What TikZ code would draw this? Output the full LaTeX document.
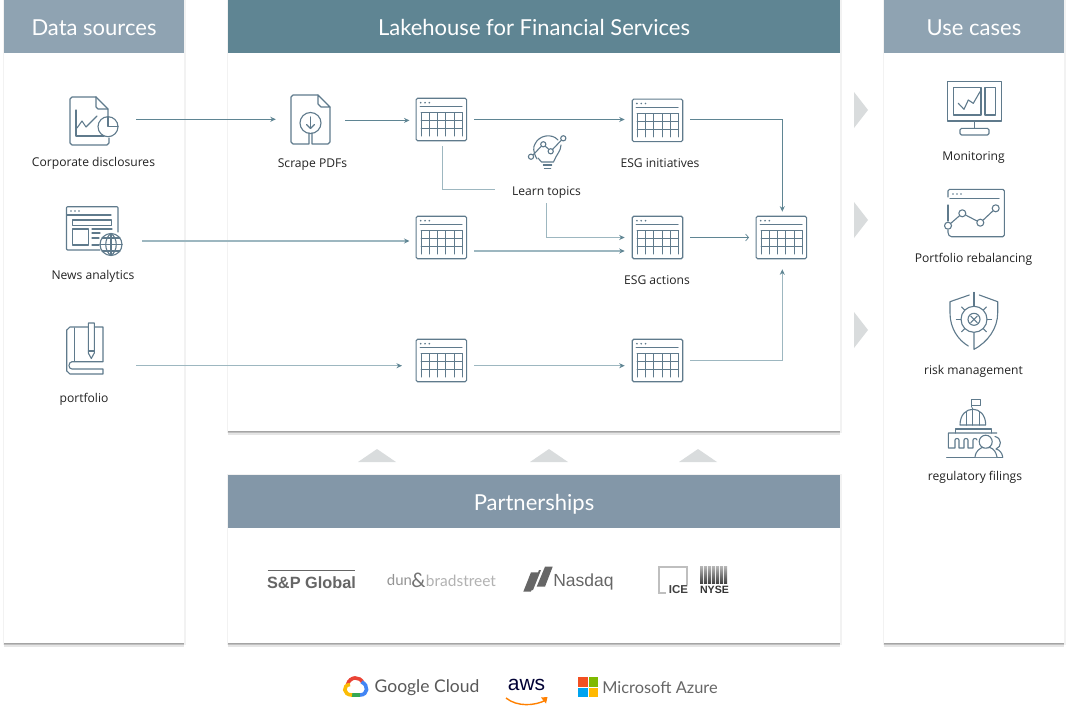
\documentclass[tikz,border=0pt]{standalone}
\usepackage{fontspec}
\setmainfont{Open Sans}
\newfontfamily\headfont{Lato}
\newfontfamily\logofont{Liberation Sans}
\usetikzlibrary{arrows.meta}
\definecolor{iconcol}{HTML}{5F7A8C}
\definecolor{flowdark}{HTML}{5F8593}
\definecolor{flowlight}{HTML}{9DB7C0}
\definecolor{headdark}{HTML}{5F8593}
\definecolor{headsrc}{HTML}{8FA3B2}
\definecolor{headpart}{HTML}{8397A8}
\definecolor{markgray}{HTML}{D9DCDD}
\definecolor{labelcol}{HTML}{222222}
\definecolor{gred}{HTML}{EA4335}
\definecolor{gblue}{HTML}{4285F4}
\definecolor{ggreen}{HTML}{34A853}
\definecolor{gyellow}{HTML}{FBBC05}
\definecolor{msred}{HTML}{F25022}
\definecolor{msgreen}{HTML}{7FBA00}
\definecolor{msblue}{HTML}{00A4EF}
\definecolor{msyellow}{HTML}{FFB900}
\tikzset{
    panelbox/.style={shape=rectangle,anchor=north west,inner sep=0pt,outer sep=0pt,fill=white,
        preaction={draw=black,line width=3pt,opacity=.05},
        preaction={fill=black,opacity=.10,transform canvas={yshift=-3.5pt}},
        preaction={fill=black,opacity=.12,transform canvas={yshift=-2.2pt}},
        preaction={fill=black,opacity=.14,transform canvas={yshift=-1pt}}},
    headbar/.style={shape=rectangle,anchor=north west,inner sep=0pt,outer sep=0pt,minimum height=53pt,text=white,
        text height=17pt,text depth=0pt,font=\headfont\fontsize{22}{24}\selectfont},
    tablebox/.style={shape=rectangle,draw=iconcol,line width=1.1pt,rounded corners=1.5pt,minimum width=50.5pt,minimum height=42.5pt,inner sep=0pt},
    iconbox/.style={shape=rectangle,inner sep=0pt},
    iconline/.style={draw=iconcol,line width=1.1pt,line join=round,line cap=round},
    labeltext/.style={anchor=base,text=labelcol,inner sep=0pt,text height=8.8pt,text depth=3pt,font=\fontsize{12.1}{14}\selectfont},
    flow/.style={draw=flowdark,line width=.9pt,-{Stealth[length=5.5pt,width=5pt]}},
    flowpale/.style={draw=flowlight,line width=1.2pt,-{Stealth[length=5.5pt,width=5pt,color=flowdark]}},
    flowplain/.style={draw=flowlight,line width=1pt},
    markarrow/.style={fill=markgray,draw=none},
    tablegrid/.pic={
        \draw[iconline,line width=1pt] (-21.3,-12.8) -- (20.7,-12.8);
        \foreach \x in {-20.6,-16.3,-12}
            \fill[iconcol] (\x,-16.8) circle (.95pt);
        \foreach \x in {-20.3,-12.1,-3.8,4.5,12.9,21}
            \draw[iconline,line width=1pt] (\x,-6.8) -- (\x,16.5);
        \foreach \y in {-6.8,1.2,8.8}
            \draw[iconline,line width=1pt] (-20.3,\y) -- (21,\y);
    }
}
\begin{document}
\begin{tikzpicture}[x=1pt,y=-1pt]
    \useasboundingbox (0,0) rectangle (1068,728);

    % panels
    \node[panelbox,minimum width=180pt,minimum height=643pt] (srcpanel) at (4,0) {};
    \node[panelbox,minimum width=612pt,minimum height=431pt] (lakepanel) at (228,0) {};
    \node[panelbox,minimum width=612pt,minimum height=168pt] (partpanel) at (228,475) {};
    \node[panelbox,minimum width=180pt,minimum height=643pt] (usepanel) at (884,0) {};
    \node[headbar,fill=headsrc,minimum width=180pt] (srchead) at (4,0) {Data sources};
    \node[headbar,fill=headdark,minimum width=612pt] (lakehead) at (228,0) {Lakehouse for Financial Services};
    \node[headbar,fill=headpart,minimum width=612pt] (parthead) at (228,475) {Partnerships};
    \node[headbar,fill=headsrc,minimum width=180pt] (usehead) at (884,0) {Use cases};

    % grey marks between the panels
    \foreach \y in {110,220,330}
        \fill[markarrow] (854,\y-18) -- (868,\y) -- (854,\y+18) -- cycle;
    \foreach \x in {377,549,698}
        \fill[markarrow] (\x-19,462) -- (\x,449) -- (\x+19,462) -- cycle;

    % tables
    \foreach \name/\px/\py in {rawtab/441.3/119.5,newstab/441.3/237.5,porttab/441.3/360.5,
        inittab/657.5/120.3,acttab/657.5/237.5,scoretab/657.5/360.5,goldtab/781.3/237.5}{
        \node[tablebox] (\name) at (\px,\py) {};
        \pic at (\name) {tablegrid};
    }

    % icon places
    \node[iconbox,minimum width=49pt,minimum height=48pt] (corp) at (94.5,121) {};
    \node[iconbox,minimum width=56pt,minimum height=50pt] (news) at (94,231) {};
    \node[iconbox,minimum width=37pt,minimum height=52pt] (port) at (85,349) {};
    \node[iconbox,minimum width=40pt,minimum height=50pt] (scrape) at (310.5,120) {};

    % labels
    \node[labeltext] (corplabel) at (93.5,166.7) {Corporate disclosures};
    \node[labeltext] (newslabel) at (93,279) {News analytics};
    \node[labeltext] (portlabel) at (84,402.4) {portfolio};
    \node[labeltext] (scrapelabel) at (312.5,167) {Scrape PDFs};
    \node[labeltext] (initlabel) at (660,167.3) {ESG initiatives};
    \node[labeltext,minimum width=70pt] (topics) at (546.5,195) {Learn topics};
    \node[labeltext] (actlabel) at (657,284) {ESG actions};
    \node[labeltext] at (973.5,160) {Monitoring};
    \node[labeltext] at (973.5,262.4) {Portfolio rebalancing};
    \node[labeltext] at (973.5,374) {risk management};
    \node[labeltext] at (975,480) {regulatory filings};

    % connectors
    \draw[flow,shorten <=17pt,shorten >=14.5pt] ([yshift=1.7pt]corp.east) -- ([yshift=.7pt]scrape.west);
    \draw[flow,shorten <=14.5pt,shorten >=6pt] ([yshift=-.4pt]scrape.east) -- ([yshift=-.9pt]rawtab.west);
    \draw[flow,shorten <=7pt,shorten >=7pt] (rawtab.east) -- (rawtab.east -| inittab.west);
    \draw[flow,shorten <=7pt,shorten >=4pt] (rawtab.east -| inittab.east) -| ([xshift=1pt]goldtab.north);
    \draw[flowplain,shorten <=5pt,shorten >=16pt] ([xshift=1pt]rawtab.south) |- ([yshift=2.8pt]topics.west);
    \draw[flowpale,shorten <=5pt,shorten >=7pt] (topics.south) |- (acttab.west);
    \draw[flowpale,shorten <=20pt,shorten >=6pt] ([yshift=-10pt]news.east) -- ([yshift=-3.5pt]newstab.west);
    \draw[flowpale,shorten <=7pt,shorten >=7pt] ([yshift=-13.5pt]newstab.east) -- ([yshift=-13.5pt]acttab.west);
    \draw[draw=flowdark,line width=.7pt,-{Straight Barb[length=3pt,width=7pt]},shorten <=7pt,shorten >=6.5pt] (acttab.east) -- (goldtab.west);
    \draw[flowpale,shorten <=32.5pt,shorten >=13.5pt] ([yshift=-16.7pt]port.east) -- ([yshift=-5.2pt]porttab.west);
    \draw[flowpale,shorten <=7pt,shorten >=7pt] ([yshift=-5.2pt]porttab.east) -- ([yshift=-5.2pt]scoretab.west);
    \draw[flowpale,shorten <=7pt,shorten >=10pt] (scoretab.east) -| ([xshift=1pt]goldtab.south);

    % corporate disclosures
    \draw[iconline] (96,97) -- (72,97) -- (70,99) -- (70,143) -- (72,145) -- (107,145) -- (109,143) -- (109,138);
    \draw[iconline] (96,97) -- (96,107) -- (98,109) -- (108,109) -- (108,116);
    \draw[iconline] (96,97) -- (108,109);
    \draw[iconline] (76,110) -- (76,136) -- (104,136);
    \draw[iconline] (77,128) -- (82,121) -- (86,127) -- (97,116);
    \draw[iconline] (108,126.7) circle (10pt);
    \draw[iconline] (108,116.7) -- (108,126.7) -- (118,126.7);

    % scrape pdfs
    \draw[iconline] (318,95) -- (293,95) -- (291,97) -- (291,142) -- (293,144) -- (309,144) -- (309,133);
    \draw[iconline] (312,133) -- (312,144) -- (328,144) -- (330,142) -- (330,107);
    \draw[iconline] (318,95) -- (318,104) -- (321,107) -- (330,107) -- cycle;
    \draw[iconline] (310.5,123) circle (10.5pt);
    \draw[iconline] (310.5,117) -- (310.5,128);
    \draw[iconline] (306.5,124.5) -- (310.5,128.5) -- (314.5,124.5);

    % news analytics
    \draw[iconline,rounded corners=1pt] (100,250) -- (66.5,250) -- (66.5,206.7) -- (118,206.7) -- (118,232);
    \draw[iconline] (67,215) -- (111,215);
    \foreach \x in {71,75,79}
        \fill[iconcol] (\x,211) circle (.95pt);
    \draw[iconline] (72.7,220) rectangle (111.7,225.3);
    \draw[iconline] (72.7,229) rectangle (88.3,245);
    \draw[iconline] (92,229) -- (112,229);
    \draw[iconline] (92,233) -- (100,233) (92,238) -- (99,238) (92,245) -- (99,245);
    \draw[iconline] (111,244.5) circle (11pt);
    \draw[iconline] (111,233.5) -- (111,255.5) (100,244.5) -- (122,244.5) (102,238) -- (120,238) (102,251) -- (120,251);
    \draw[iconline] (111,233.5) .. controls (104,238) and (104,251) .. (111,255.5);
    \draw[iconline] (111,233.5) .. controls (118,238) and (118,251) .. (111,255.5);

    % portfolio
    \draw[iconline] (88,327) -- (70,327) -- (66.7,330) -- (66.7,371) -- (70,374) -- (103,374) -- (103,369) -- (72,369) .. controls (68,369) and (68,362) .. (72,361.7) -- (103,361.7) -- (103,327) -- (94.3,327);
    \draw[iconline] (74.7,328) -- (74.7,361);
    \draw[iconline] (88.3,323) -- (94.3,323) -- (94.3,353) -- (91.3,358.5) -- (88.3,353) -- cycle;
    \draw[iconline] (88.3,351) -- (94.3,351);

    % learn topics
    \draw[iconline] (537,159) .. controls (533,152) and (533,147) .. (535,144) .. controls (539,135) and (552,133) .. (558,140);
    \draw[iconline] (561,145) .. controls (561,151) and (556,155) .. (553.5,162) -- (541.5,162) -- (538,158);
    \draw[iconline] (543.3,165) -- (551.7,165) (544.3,168.5) -- (550.7,168.5);
    \draw[iconline] (533,155) -- (541.5,146) (545,146) -- (549,149.5) (552.5,149.5) -- (561.5,140);
    \foreach \cx/\cy in {531/156.7,543.3/144.3,550.7/151.3,563.3/138.3}
        \draw[iconline,fill=white] (\cx,\cy) circle (2.6pt);

    % monitoring
    \draw[iconline] (947.3,81.7) rectangle (1001.7,121);
    \draw[iconline] (953.3,87.3) rectangle (981,115);
    \draw[iconline] (985,87.3) rectangle (995.7,115);
    \draw[iconline] (958.3,103.3) -- (964,109.3) -- (968.3,100) -- (973.3,103.3) -- (980,91.7);
    \draw[iconline] (974.3,121) -- (974.3,128.3);
    \draw[iconline,rounded corners=1.5pt] (960,128.3) rectangle (989,135);

    % portfolio rebalancing
    \draw[iconline,rounded corners=1pt] (948,205) -- (948,221);
    \draw[iconline,rounded corners=1.5pt] (948,197) -- (948,189.3) -- (1004.3,189.3) -- (1004.3,236.7) -- (950,236.7) -- (948,234) -- (948,230);
    \draw[iconline] (950,198.3) -- (999,198.3);
    \foreach \x in {953,957,961}
        \fill[iconcol] (\x,194) circle (.95pt);
    \draw[iconline] (948,225.7) -- (962.3,213.3) -- (980.3,222.7) -- (995.7,208.3);
    \foreach \cx/\cy in {948/225.7,962.3/213.3,980.3/222.7,995.7/208.3}
        \draw[iconline,fill=white] (\cx,\cy) circle (3.5pt);

    % risk management
    \draw[iconline] (969.3,295) -- (950,301.7) -- (950,313) .. controls (950,328) and (958,340) .. (968.3,346);
    \draw[iconline] (979.3,295) -- (997.7,301.7) -- (997.7,313) .. controls (997.7,328) and (988,342) .. (974,349.3) -- (974,333);
    \draw[iconline] (974,292.3) -- (974,306);
    \draw[iconline] (974,319.3) circle (13pt);
    \draw[iconline] (974,319.3) circle (6pt);
    \draw[iconline] (970.8,316.1) -- (977.2,322.5) (970.8,322.5) -- (977.2,316.1);
    \foreach \a in {0,45,135,180,225,315}
        \draw[iconline] (974,319.3) ++(\a:13) -- ++(\a:4.5);

    % regulatory filings
    \draw[iconline] (971.7,407) -- (971.7,399.3) -- (980.5,399.3) -- (980.5,405.5) -- (971.7,405.5);
    \draw[iconline] (960,425) .. controls (960,404) and (985.7,404) .. (985.7,425) -- cycle;
    \draw[iconline] (966.7,425) -- (966.7,412) (972.7,425) -- (972.7,408) (979.3,425) -- (979.3,412);
    \draw[iconline] (955.7,433) -- (955.7,429) -- (991.7,429) -- (991.7,433);
    \draw[iconline] (996.7,433) -- (948.3,433) -- (948.3,448) -- (955,448) -- (955,440) .. controls (955,438) and (959,438) .. (959,440) -- (959,448) -- (964,448) -- (964,440) .. controls (964,438) and (968,438) .. (968,440) -- (968,448) -- (973,448) -- (973,440) .. controls (973,438) and (977,438) .. (977,440);
    \draw[iconline] (946.7,457.3) -- (1002.7,457.3);
    \draw[iconline,fill=white] (975,457) .. controls (976,450) and (980,449) .. (982,447.5) -- (990,447.5) .. controls (994,449) and (996,452) .. (997,457);
    \draw[iconline,fill=white] (985.7,441.7) circle (6.5pt);
    \draw[iconline] (995,436.5) .. controls (1002,438) and (1002,447) .. (996,449) .. controls (1000,450) and (1002,453) .. (1002.7,457);

    % partner logos
    \draw[draw=black!60,line width=1.5pt] (267.7,570.7) -- (355,570.7);
    \node[iconbox,text=black!60,font=\logofont\bfseries\fontsize{16.3}{20}\selectfont] (spglobal) at (311.5,583) {S\&P Global};
    \node[iconbox,text=black!42,font=\headfont\fontsize{15}{16}\selectfont] (dun) at (399.5,580.5) {dun};
    \node[iconbox,text=black!55,font=\headfont\fontsize{20}{22}\selectfont] (amp) at (418.5,580) {\&};
    \node[iconbox,text=black!30,font=\headfont\fontsize{15.5}{16}\selectfont] (brad) at (461,580.5) {bradstreet};
    \fill[black!60] (523.3,591.7) -- (530.9,591.7) -- (539,572.3) -- (531,572.3) -- cycle;
    \fill[black!60] (536.7,586.7) -- (545,586.7) -- (552.7,566.7) -- (545,566.7) -- cycle;
    \fill[black!60] (531,590) -- (533,590) -- (541,570) -- (539,570) -- cycle;
    \node[iconbox,text=black!60,font=\logofont\fontsize{17.5}{20}\selectfont] (nasdaq) at (583.5,581.5) {Nasdaq};
    \draw[draw=black!25,line width=1.8pt] (686.7,585) -- (686.7,566.7) -- (659.3,566.7) -- (659.3,593.3) -- (666,593.3);
    \node[iconbox,anchor=base,text=black!75,font=\logofont\bfseries\fontsize{11.5}{12}\selectfont] (ice) at (678.5,593.3) {ICE};
    \foreach \x in {700,704,708,712,716,720,724}
        \shade[top color=black!30,bottom color=black!75] (\x,566.7) rectangle (\x+3,583.3);
    \node[iconbox,anchor=base,text=black!80,font=\logofont\bfseries\fontsize{10.6}{12}\selectfont] (nyse) at (714.5,593) {NYSE};

    % cloud logos
    \draw[draw=gred,line width=3.6pt] (347.5,684.5) .. controls (350,676) and (360,676) .. (363,683);
    \draw[draw=gblue,line width=3.6pt] (361.5,682) .. controls (369,685) and (368,695) .. (360,695);
    \draw[draw=ggreen,line width=3.6pt] (360,695) -- (351,695);
    \draw[draw=gyellow,line width=3.6pt] (352,695) .. controls (343,695) and (342.5,685) .. (350,684.5);
    \node[iconbox,text=black!65,font=\headfont\fontsize{17.5}{22}\selectfont] (gcloud) at (427,688) {Google Cloud};
    \node[iconbox,text=black!80!blue,font=\logofont\fontsize{21}{22}\selectfont] (aws) at (526.5,685) {aws};
    \draw[draw=orange,line width=1.4pt] (506,698) .. controls (517,707) and (535,706) .. (546,700);
    \fill[fill=orange] (541,697.5) -- (547.5,697) -- (546,703.5) -- cycle;
    \fill[fill=msred] (578,677) rectangle (587.5,686.5);
    \fill[fill=msgreen] (588.5,677) rectangle (598,686.5);
    \fill[fill=msblue] (578,687.5) rectangle (587.5,697);
    \fill[fill=msyellow] (588.5,687.5) rectangle (598,697);
    \node[iconbox,text=black!60,font=\headfont\fontsize{16.4}{22}\selectfont] (azure) at (660,688) {Microsoft Azure};
\end{tikzpicture}
\end{document}
